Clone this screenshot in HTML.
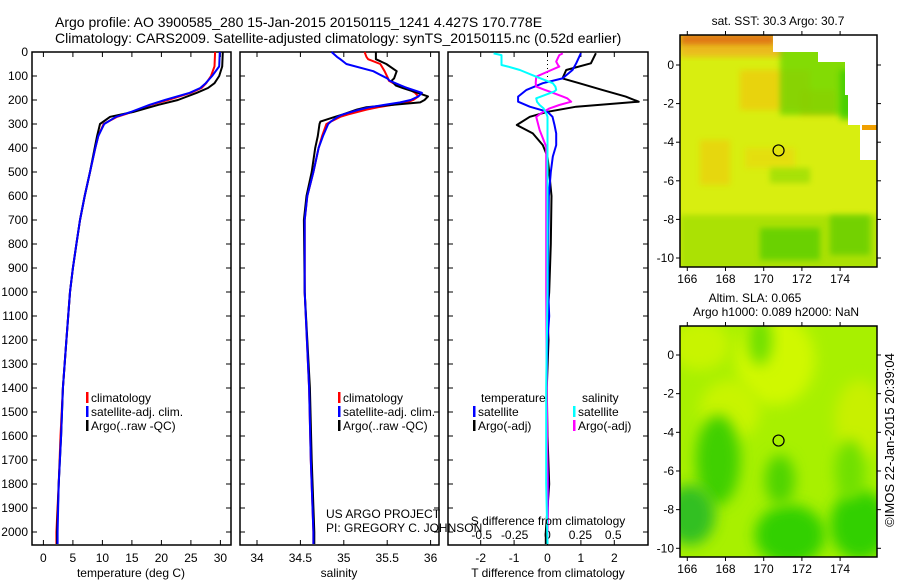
<!DOCTYPE html>
<html><head><meta charset="utf-8">
<style>
html,body{margin:0;padding:0;background:#fff;}
svg{display:block;font-family:"Liberation Sans",sans-serif;}
</style></head>
<body>
<svg id="fig" width="900" height="580" viewBox="0 0 900 580" xmlns="http://www.w3.org/2000/svg">
<defs>
<filter id="blur6" x="-50%" y="-50%" width="200%" height="200%"><feGaussianBlur stdDeviation="7"/></filter>
<filter id="blur2" x="-30%" y="-30%" width="160%" height="160%"><feGaussianBlur stdDeviation="3"/></filter>
<clipPath id="clipTop"><rect x="680" y="35" width="197" height="232"/></clipPath>
<clipPath id="clipBot"><rect x="680" y="326" width="197" height="231"/></clipPath>
</defs>
<text x="55" y="27" font-size="14">Argo profile: AO 3900585_280 15-Jan-2015 20150115_1241 4.427S 170.778E</text>
<text x="55" y="43" font-size="14">Climatology: CARS2009. Satellite-adjusted climatology: synTS_20150115.nc (0.52d earlier)</text>
<g id="plots"></g>
<g id="maps"></g>
<text transform="translate(894,440) rotate(-90)" text-anchor="middle" font-size="13">©IMOS 22-Jan-2015 20:39:04</text>
</svg>
<script>
// ---- data ----
const tDepthArgo = [0,60,100,130,150,170,200,220,250,270,300,350,400,500,600,700,800,900,1000,1200,1400,1600,1800,2000,2050];
const tArgo      = [30.4,30.3,29.8,29.0,27.9,26.0,22.8,19.5,15.2,11.3,9.6,9.1,8.7,7.9,7.0,6.2,5.6,5.0,4.5,3.9,3.3,3.0,2.6,2.3,2.3];
const tDepthClim = [0,60,100,130,150,170,200,220,250,270,300,350,400,500,600,700,800,900,1000,1200,1400,1600,1800,2000,2050];
const tClim      = [29.1,29.0,28.4,27.6,26.8,25.0,21.1,18.2,15.0,12.5,10.2,9.3,8.8,7.9,7.0,6.2,5.6,5.0,4.5,3.9,3.3,2.9,2.6,2.2,2.2];
const tSat       = [29.9,29.8,28.6,27.5,26.6,24.8,20.6,18.0,14.8,12.3,10.3,9.3,8.8,7.9,7.0,6.2,5.6,5.0,4.5,3.9,3.3,3.0,2.6,2.4,2.4];

const sDepth = [0,20,30,50,80,110,120,140,150,170,185,200,210,230,240,260,270,290,300,350,400,500,600,700,1000,1400,1700,2000,2050];
const sArgo  = [35.37,35.37,35.37,35.49,35.61,35.58,35.55,35.60,35.68,35.85,35.97,35.93,35.88,35.26,35.15,34.99,34.90,34.73,34.72,34.70,34.67,34.63,34.57,34.54,34.55,34.61,34.63,34.66,34.66];
const sClim  = [35.24,35.26,35.28,35.42,35.47,35.51,35.52,35.62,35.73,35.82,35.86,35.80,35.73,35.40,35.26,35.05,34.96,34.85,34.80,34.75,34.71,34.65,34.58,34.55,34.55,34.60,34.62,34.65,34.65];
const sSat   = [34.86,34.92,34.96,35.03,35.34,35.50,35.53,35.66,35.73,35.90,35.86,35.77,35.65,35.30,35.18,34.99,34.93,34.85,34.82,34.76,34.71,34.65,34.58,34.55,34.55,34.60,34.62,34.65,34.65];

const dDepthT   = [5,47,75,110,130,158,186,207,228,249,270,304,339,388,436,500,600,800,1000,1100,1200,1400,1600,1800,2000,2050];
const dTArgo    = [1.45,1.3,0.56,0.45,0.95,1.64,2.34,2.73,0.86,0.0,-0.53,-0.92,-0.44,-0.14,0.0,0.05,0.12,0.1,0.05,0.0,0.03,-0.02,0.0,0.05,-0.05,-0.05];
const dTSat     = [1.0,0.86,0.75,0.45,-0.14,-0.63,-0.88,-0.88,-0.53,0.0,0.15,0.21,0.26,0.26,0.16,0.1,0.04,0.02,0.02,0.05,0.0,-0.03,-0.02,0.02,0.0,0.0];
const dDepthS   = [6,13,40,54,61,75,103,130,144,158,165,186,193,207,221,235,256,270,325,395,600,1000,1400,1800,2050];
const dSArgo    = [0.116,0.09,0.066,0.08,0.09,0.03,-0.086,-0.09,-0.086,-0.02,0.015,0.116,0.15,0.18,0.09,0.015,-0.05,-0.086,-0.06,-0.01,-0.01,-0.01,-0.005,0.0,0.0];
const dSSat     = [-0.41,-0.35,-0.35,-0.35,-0.3,-0.21,-0.086,0.04,0.06,0.066,0.05,-0.05,-0.086,-0.08,-0.06,-0.03,-0.01,0.0,0.0,0.0,0.0,0.0,-0.01,-0.01,0.0];

const depthTicks = [0,100,200,300,400,500,600,700,800,900,1000,1100,1200,1300,1400,1500,1600,1700,1800,1900,2000];
const tempTicks = [0,5,10,15,20,25,30];
const salTicks = [34,34.5,35,35.5,36];
const salTickLabels = ['34','34.5','35','35.5','36'];
const dTTicks = [-2,-1,0,1,2];
const dSTicks = [-0.5,-0.25,0,0.25,0.5];
const dSTickLabels = ['-0.5','-0.25','0','0.25','0.5'];
const lonTicks = [166,168,170,172,174];
const latTicks = [0,-2,-4,-6,-8,-10];
const argoLon = [170.778];
const argoLat = [-4.427];

// ---- scales ----
const NS='http://www.w3.org/2000/svg';
const yD = d => 52 + 0.24*d;
const xT = t => 43.4 + 5.9*t;
const xS = s => 257 + 86.8*(s-34);
const xDT = v => 547.5 + 33.4*v;
const xDS = v => 547.5 + 131.5*v;
const topMap = {x0:680,y0:35,w:197,h:232,lon:l=>687.3+19.1*(l-166),lat:a=>65+19.3*(-a)};
const botMap = {x0:680,y0:326,w:197,h:231,lon:l=>687.3+19.1*(l-166),lat:a=>355+19.33*(-a)};

function mk(tag, attrs, parent){const e=document.createElementNS(NS,tag);for(const k in attrs)e.setAttribute(k,attrs[k]);parent.appendChild(e);return e;}
function txt(str,x,y,attrs,parent){const e=mk('text',Object.assign({x:x,y:y,'font-size':12},attrs||{}),parent);e.textContent=str;return e;}
const plots=document.getElementById('plots');
const maps=document.getElementById('maps');

function line(xs, ds, xf, color, name, w){
  const p = xs.map((v,i)=>xf(v).toFixed(1)+','+yD(ds[i]).toFixed(1)).join(' ');
  const e = mk('polyline',{points:p,fill:'none',stroke:color,'stroke-width':w||2,'stroke-linejoin':'round'},plots);
  
  
}
function frame(x0,x1,name){
  const e=mk('rect',{x:x0,y:52,width:x1-x0,height:493,fill:'none',stroke:'#000','stroke-width':1.5},plots);
  
  
  depthTicks.forEach(d=>{
    mk('line',{x1:x0,x2:x0+5,y1:yD(d),y2:yD(d),stroke:'#000'},plots);
    mk('line',{x1:x1-5,x2:x1,y1:yD(d),y2:yD(d),stroke:'#000'},plots);
  });
}
function xticks(vals,labels,xf,x0,x1,ly,name){
  vals.forEach((v,i)=>{
    const x=xf(v);
    mk('line',{x1:x,x2:x,y1:545,y2:540,stroke:'#000'},plots);
    mk('line',{x1:x,x2:x,y1:52,y2:57,stroke:'#000'},plots);
    const t=txt(labels[i],x,ly,{'text-anchor':'middle'},plots);
    
    
  });
}

// panel 1 temperature
frame(32,231,'temperature-panel');
depthTicks.forEach(d=>{
  const t=txt(String(d),28,yD(d)+4,{'text-anchor':'end'},plots);
  
  
});
xticks(tempTicks,tempTicks.map(String),xT,32,231,562,'temperature-tick-label');
line(tClim,tDepthClim,xT,'#ff0000','temperature-climatology-line');
line(tArgo,tDepthArgo,xT,'#000000','temperature-argo-line');
line(tSat,tDepthClim,xT,'#0000ff','temperature-satellite-line');
txt('temperature (deg C)',131,577,{'text-anchor':'middle'},plots);

// panel 2 salinity
frame(240,439,'salinity-panel');
xticks(salTicks,salTickLabels,xS,240,439,562,'salinity-tick-label');
line(sClim,sDepth,xS,'#ff0000','salinity-climatology-line');
line(sArgo,sDepth,xS,'#000000','salinity-argo-line');
line(sSat,sDepth,xS,'#0000ff','salinity-satellite-line');
txt('salinity',339,577,{'text-anchor':'middle'},plots);

// panel 3 differences
frame(448,648,'difference-panel');
mk('line',{x1:xDT(0),x2:xDT(0),y1:52,y2:80,stroke:'#000','stroke-dasharray':'1,3'},plots);
xticks(dTTicks,dTTicks.map(String),xDT,448,648,562,'t-diff-tick-label');
dSTicks.forEach((v,i)=>{
  const t=txt(dSTickLabels[i],xDS(v),539,{'text-anchor':'middle'},plots);
  
  
});
line(dTArgo,dDepthT,xDT,'#000000','t-diff-argo-line');
line(dTSat,dDepthT,xDT,'#0000ff','t-diff-satellite-line');
line(dSArgo,dDepthS,xDS,'#ff00ff','s-diff-argo-line');
line(dSSat,dDepthS,xDS,'#00ffff','s-diff-satellite-line');
txt('S difference from climatology',548,525,{'text-anchor':'middle'},plots);
txt('T difference from climatology',548,577,{'text-anchor':'middle'},plots);

// legends
function legendEntry(x,y,color,label,name){
  mk('rect',{x:x,y:y-6,width:2.5,height:11,fill:color},plots);
  const t=txt(label,x+5,y+4,{},plots);
  
  
}
legendEntry(86,398,'#ff0000','climatology','temp-legend-climatology');
legendEntry(86,412,'#0000ff','satellite-adj. clim.','temp-legend-satellite');
legendEntry(86,426,'#000000','Argo(..raw -QC)','temp-legend-argo');
legendEntry(338,398,'#ff0000','climatology','sal-legend-climatology');
legendEntry(338,412,'#0000ff','satellite-adj. clim.','sal-legend-satellite');
legendEntry(338,426,'#000000','Argo(..raw -QC)','sal-legend-argo');
txt('temperature',481,402,{},plots);
txt('salinity',582,402,{},plots);
legendEntry(473,412,'#0000ff','satellite','diff-legend-t-satellite');
legendEntry(473,426,'#000000','Argo(-adj)','diff-legend-t-argo');
legendEntry(573,412,'#00ffff','satellite','diff-legend-s-satellite');
legendEntry(573,426,'#ff00ff','Argo(-adj)','diff-legend-s-argo');
txt('US ARGO PROJECT',326,518,{},plots);
txt('PI: GREGORY C. JOHNSON',326,532,{},plots);

// ---- maps ----
function mapFrame(m,name){
  const g=mk('g',{},maps);
  
  
  return g;
}
function mapAxes(m,g){
  mk('rect',{x:m.x0,y:m.y0,width:m.w,height:m.h,fill:'none',stroke:'#000','stroke-width':1.5},g);
  lonTicks.forEach(l=>{
    const x=m.lon(l);
    mk('line',{x1:x,x2:x,y1:m.y0+m.h,y2:m.y0+m.h+4,stroke:'#000'},g);
    mk('line',{x1:x,x2:x,y1:m.y0,y2:m.y0-4,stroke:'#000'},g);
    const t=txt(String(l),x,m.y0+m.h+16,{'text-anchor':'middle'},g);
    
    
  });
  latTicks.forEach(a=>{
    const y=m.lat(a);
    mk('line',{x1:m.x0-4,x2:m.x0,y1:y,y2:y,stroke:'#000'},g);
    mk('line',{x1:m.x0+m.w,x2:m.x0+m.w+4,y1:y,y2:y,stroke:'#000'},g);
    const t=txt(String(a),m.x0-6,y+4,{'text-anchor':'end'},g);
    
    
  });
  const c=mk('circle',{cx:m.lon(argoLon[0]),cy:m.lat(argoLat[0]),r:5.5,fill:'none',stroke:'#000','stroke-width':1.2},g);
  
  
}
// top SST map
const gT=mapFrame(topMap,'sst-map');
const gTc=mk('g',{'clip-path':'url(#clipTop)'},gT);
mk('rect',{x:680,y:35,width:197,height:232,fill:'#d8ee10'},gTc);
[[680,33,95,14,'#e07a18',1],[680,45,105,12,'#f0b020',0.8],[740,70,70,40,'#f0c810',0.7],[800,90,35,25,'#f0c000',0.6],[700,140,30,45,'#f0c810',0.6],[745,148,50,20,'#f0d010',0.5]].forEach(r=>mk('rect',{x:r[0],y:r[1],width:r[2],height:r[3],fill:r[4],opacity:r[5],filter:'url(#blur2)'},gTc));
[[780,45,95,70,'#60d400',0.7],[840,70,30,50,'#20c800',0.6],[680,215,197,55,'#98dc00',0.7],[760,228,60,32,'#40c800',0.6],[830,215,40,40,'#50c800',0.6],[770,168,40,15,'#78d400',0.5]].forEach(r=>mk('rect',{x:r[0],y:r[1],width:r[2],height:r[3],fill:r[4],opacity:r[5],filter:'url(#blur2)'},gTc));
mk('polygon',{points:'773,35 877,35 877,160 860,160 860,125 848,125 848,95 845,95 845,62 818,62 818,52 773,52',fill:'#ffffff'},gTc);
mk('rect',{x:862,y:125,width:15,height:5,fill:'#f0a000'},gTc);
mapAxes(topMap,gT);
txt('sat. SST: 30.3 Argo: 30.7',778,25,{'text-anchor':'middle'},maps);

// bottom SLA map
const gB=mapFrame(botMap,'sla-map');
const gBc=mk('g',{'clip-path':'url(#clipBot)'},gB);
mk('rect',{x:680,y:326,width:197,height:231,fill:'#a8f000'},gBc);
[[775,360,40,45,'#d0f800'],[700,345,30,25,'#c8f400'],[730,410,30,30,'#c8f400'],[860,420,25,40,'#c8f000']].forEach(e=>mk('ellipse',{cx:e[0],cy:e[1],rx:e[2],ry:e[3],fill:e[4],filter:'url(#blur6)'},gBc));
[[718,460,22,45,'#40d000'],[690,515,25,30,'#30c020'],[790,535,35,30,'#30d000'],[860,525,30,35,'#30d000'],[780,480,15,25,'#50d400'],[850,470,15,30,'#70e000'],[760,340,12,25,'#70e000']].forEach(e=>mk('ellipse',{cx:e[0],cy:e[1],rx:e[2],ry:e[3],fill:e[4],filter:'url(#blur6)'},gBc));
mapAxes(botMap,gB);
txt('Altim. SLA: 0.065',755,302,{'text-anchor':'middle'},maps);
txt('Argo h1000: 0.089 h2000: NaN',776,316,{'text-anchor':'middle'},maps);
</script>
</body></html>
